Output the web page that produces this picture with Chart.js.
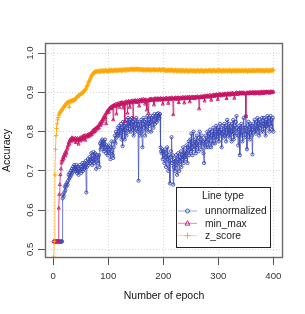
<!DOCTYPE html>
<html>
<head>
<meta charset="utf-8">
<script src="https://cdn.jsdelivr.net/npm/chart.js@4"></script>
<style>
  body { margin: 0; background: #fff; }
  canvas { display: block; }
</style>
</head>
<body>
<canvas id="accChart" width="305" height="314"></canvas>
<script>
// accuracy per epoch (epoch 1..400)
const unnormalized = [
  0.52,0.52,0.52,0.52,0.52,0.52,0.52,0.52,0.52,0.52,0.52,0.52,0.52,0.52,0.52,0.52,0.63,0.64,0.635,0.645,
  0.66,0.65,0.665,0.66,0.67,0.665,0.675,0.69,0.68,0.695,0.685,0.70,0.69,0.705,0.695,0.71,0.70,0.715,0.705,0.71,
  0.70,0.715,0.695,0.71,0.70,0.69,0.705,0.715,0.70,0.71,0.695,0.705,0.72,0.70,0.715,0.705,0.72,0.71,0.725,0.645,
  0.71,0.72,0.73,0.715,0.725,0.735,0.72,0.73,0.745,0.725,0.715,0.73,0.748,0.72,0.735,0.745,0.73,0.705,0.725,0.74,
  0.735,0.72,0.74,0.71,0.77,0.755,0.775,0.765,0.78,0.76,0.775,0.75,0.77,0.78,0.76,0.745,0.765,0.755,0.74,0.76,
  0.765,0.745,0.755,0.73,0.76,0.775,0.75,0.74,0.733,0.76,0.775,0.79,0.77,0.80,0.785,0.795,0.81,0.79,0.80,0.815,
  0.79,0.805,0.82,0.78,0.81,0.763,0.825,0.80,0.815,0.78,0.805,0.82,0.79,0.83,0.81,0.835,0.80,0.825,0.815,0.83,
  0.80,0.82,0.835,0.805,0.825,0.79,0.81,0.83,0.80,0.82,0.835,0.81,0.825,0.80,0.675,0.81,0.825,0.79,0.815,0.83,
  0.80,0.76,0.82,0.835,0.81,0.825,0.79,0.83,0.805,0.815,0.84,0.82,0.80,0.83,0.815,0.84,0.825,0.80,0.835,0.82,
  0.84,0.81,0.83,0.845,0.82,0.835,0.84,0.825,0.845,0.83,0.847,0.84,0.835,0.845,0.76,0.75,0.745,0.755,0.73,0.75,
  0.74,0.72,0.755,0.735,0.71,0.745,0.76,0.73,0.70,0.74,0.725,0.668,0.735,0.75,0.786,0.72,0.74,0.665,0.71,0.73,
  0.70,0.725,0.74,0.715,0.69,0.73,0.745,0.72,0.70,0.735,0.725,0.75,0.71,0.74,0.73,0.76,0.72,0.745,0.735,0.75,
  0.73,0.765,0.745,0.72,0.76,0.775,0.74,0.755,0.78,0.75,0.795,0.76,0.74,0.77,0.80,0.755,0.765,0.78,0.745,0.77,
  0.79,0.76,0.775,0.75,0.785,0.80,0.765,0.78,0.755,0.79,0.77,0.775,0.745,0.72,0.78,0.765,0.79,0.76,0.775,0.80,
  0.78,0.76,0.795,0.77,0.805,0.785,0.76,0.79,0.80,0.77,0.81,0.785,0.795,0.77,0.80,0.815,0.78,0.805,0.79,0.81,
  0.775,0.80,0.82,0.79,0.805,0.76,0.795,0.815,0.785,0.80,0.82,0.79,0.81,0.775,0.805,0.83,0.79,0.81,0.795,0.82,
  0.785,0.81,0.80,0.775,0.82,0.795,0.83,0.78,0.805,0.815,0.79,0.825,0.84,0.81,0.80,0.765,0.79,0.815,0.74,0.81,
  0.79,0.82,0.80,0.775,0.81,0.835,0.785,0.81,0.795,0.84,0.80,0.755,0.815,0.79,0.825,0.805,0.78,0.82,0.80,0.815,
  0.79,0.742,0.805,0.82,0.80,0.83,0.81,0.795,0.825,0.81,0.835,0.80,0.82,0.79,0.83,0.81,0.825,0.80,0.835,0.815,
  0.82,0.80,0.835,0.81,0.825,0.79,0.83,0.815,0.84,0.81,0.825,0.835,0.80,0.82,0.84,0.815,0.83,0.805,0.835,0.80
];
const minMax = [
  0.52,0.52,0.52,0.52,0.52,0.52,0.52,0.52,0.52,0.605,0.64,0.665,0.69,0.705,0.72,0.728,0.725,0.735,0.73,0.74,
  0.745,0.738,0.75,0.745,0.755,0.76,0.765,0.772,0.768,0.778,0.775,0.782,0.778,0.785,0.78,0.783,0.776,0.782,0.779,0.784,
  0.772,0.781,0.777,0.783,0.78,0.768,0.782,0.778,0.785,0.776,0.781,0.786,0.78,0.788,0.783,0.79,0.785,0.778,0.791,0.787,
  0.79,0.786,0.792,0.788,0.794,0.789,0.795,0.791,0.797,0.793,0.799,0.803,0.797,0.805,0.80,0.807,0.802,0.81,0.806,0.812,
  0.808,0.815,0.81,0.818,0.822,0.816,0.825,0.82,0.83,0.826,0.835,0.831,0.84,0.836,0.845,0.82,0.848,0.852,0.848,0.856,
  0.85,0.858,0.86,0.862,0.858,0.864,0.86,0.866,0.83,0.867,0.868,0.864,0.87,0.866,0.845,0.871,0.867,0.872,0.868,0.862,
  0.873,0.869,0.874,0.87,0.875,0.871,0.86,0.874,0.87,0.826,0.876,0.872,0.877,0.873,0.847,0.876,0.878,0.874,0.862,0.877,
  0.873,0.878,0.875,0.879,0.834,0.876,0.879,0.875,0.88,0.877,0.878,0.874,0.88,0.876,0.879,0.865,0.881,0.877,0.88,0.878,
  0.882,0.876,0.879,0.883,0.878,0.881,0.87,0.882,0.879,0.855,0.88,0.878,0.847,0.882,0.879,0.883,0.881,0.884,0.88,0.882,
  0.879,0.883,0.868,0.882,0.885,0.881,0.884,0.88,0.883,0.885,0.882,0.884,0.88,0.883,0.885,0.881,0.884,0.882,0.87,0.885,
  0.882,0.884,0.881,0.885,0.883,0.886,0.882,0.884,0.872,0.885,0.883,0.886,0.882,0.884,0.887,0.883,0.885,0.843,0.884,0.886,
  0.883,0.887,0.884,0.886,0.882,0.885,0.887,0.874,0.886,0.884,0.887,0.883,0.886,0.884,0.888,0.885,0.887,0.873,0.886,0.888,
  0.884,0.887,0.885,0.888,0.886,0.884,0.889,0.876,0.887,0.885,0.888,0.886,0.889,0.885,0.888,0.887,0.884,0.889,0.886,0.888,
  0.887,0.89,0.886,0.888,0.858,0.889,0.887,0.89,0.886,0.889,0.887,0.89,0.888,0.891,0.878,0.889,0.892,0.888,0.891,0.889,
  0.892,0.89,0.888,0.893,0.889,0.892,0.88,0.891,0.893,0.89,0.892,0.894,0.89,0.893,0.891,0.895,0.892,0.894,0.882,0.893,
  0.895,0.892,0.896,0.893,0.895,0.891,0.894,0.896,0.893,0.895,0.894,0.897,0.893,0.896,0.884,0.895,0.898,0.894,0.896,0.893,
  0.897,0.895,0.898,0.894,0.896,0.899,0.895,0.897,0.885,0.896,0.898,0.895,0.90,0.896,0.898,0.895,0.899,0.897,0.90,0.896,
  0.899,0.897,0.90,0.898,0.896,0.90,0.897,0.899,0.896,0.838,0.898,0.90,0.897,0.899,0.896,0.90,0.898,0.901,0.897,0.899,
  0.90,0.897,0.901,0.898,0.90,0.896,0.899,0.901,0.898,0.90,0.897,0.901,0.899,0.90,0.896,0.901,0.898,0.902,0.899,0.901,
  0.897,0.90,0.902,0.899,0.901,0.898,0.902,0.90,0.901,0.899,0.902,0.90,0.898,0.901,0.903,0.899,0.901,0.902,0.90,0.902
];
const zScore = [
  0.48,0.52,0.69,0.755,0.79,0.808,0.82,0.83,0.836,0.842,0.845,0.848,0.85,0.852,0.855,0.856,0.858,0.86,0.862,0.865,
  0.866,0.868,0.87,0.872,0.873,0.875,0.874,0.876,0.862,0.877,0.878,0.877,0.879,0.878,0.88,0.879,0.881,0.88,0.882,0.881,
  0.884,0.886,0.888,0.89,0.891,0.892,0.893,0.892,0.895,0.896,0.897,0.898,0.899,0.90,0.902,0.903,0.905,0.906,0.908,0.911,
  0.915,0.918,0.921,0.925,0.928,0.931,0.934,0.937,0.94,0.943,0.945,0.947,0.949,0.951,0.952,0.953,0.952,0.954,0.953,0.954,
  0.954,0.953,0.955,0.954,0.956,0.953,0.955,0.954,0.956,0.955,0.953,0.956,0.954,0.955,0.957,0.954,0.956,0.955,0.953,0.956,
  0.955,0.957,0.954,0.956,0.955,0.957,0.956,0.954,0.957,0.955,0.956,0.958,0.955,0.957,0.956,0.958,0.955,0.957,0.956,0.958,
  0.956,0.958,0.957,0.955,0.958,0.956,0.959,0.957,0.958,0.956,0.959,0.957,0.958,0.956,0.959,0.958,0.957,0.959,0.958,0.96,
  0.958,0.959,0.957,0.96,0.958,0.959,0.957,0.96,0.958,0.959,0.96,0.958,0.959,0.957,0.96,0.958,0.959,0.957,0.959,0.958,
  0.957,0.959,0.958,0.956,0.959,0.957,0.958,0.956,0.959,0.957,0.958,0.959,0.957,0.958,0.956,0.959,0.957,0.958,0.956,0.958,
  0.957,0.959,0.958,0.956,0.958,0.957,0.959,0.957,0.958,0.956,0.958,0.957,0.959,0.958,0.956,0.958,0.957,0.959,0.957,0.958,
  0.956,0.958,0.957,0.955,0.958,0.956,0.957,0.955,0.958,0.956,0.957,0.955,0.957,0.956,0.958,0.955,0.957,0.956,0.954,0.957,
  0.955,0.957,0.956,0.954,0.957,0.955,0.956,0.954,0.957,0.955,0.956,0.953,0.956,0.955,0.957,0.954,0.956,0.955,0.953,0.956,
  0.955,0.957,0.954,0.956,0.955,0.953,0.956,0.954,0.957,0.955,0.956,0.954,0.955,0.957,0.954,0.956,0.955,0.953,0.956,0.954,
  0.955,0.957,0.954,0.956,0.955,0.953,0.956,0.955,0.957,0.954,0.956,0.955,0.953,0.956,0.954,0.955,0.957,0.954,0.956,0.955,
  0.954,0.956,0.955,0.957,0.954,0.956,0.955,0.953,0.956,0.955,0.957,0.954,0.956,0.955,0.954,0.956,0.955,0.957,0.954,0.956,
  0.955,0.957,0.954,0.956,0.955,0.953,0.956,0.955,0.957,0.954,0.956,0.955,0.954,0.956,0.957,0.955,0.954,0.956,0.955,0.957,
  0.954,0.956,0.955,0.953,0.956,0.955,0.957,0.954,0.956,0.955,0.954,0.957,0.955,0.956,0.954,0.955,0.957,0.954,0.956,0.955,
  0.956,0.954,0.955,0.957,0.955,0.954,0.956,0.955,0.957,0.954,0.956,0.955,0.953,0.956,0.955,0.957,0.954,0.956,0.955,0.956,
  0.954,0.956,0.955,0.957,0.955,0.954,0.956,0.955,0.957,0.955,0.956,0.954,0.957,0.955,0.956,0.955,0.957,0.954,0.956,0.955,
  0.957,0.955,0.956,0.954,0.957,0.955,0.956,0.957,0.955,0.956,0.954,0.957,0.955,0.956,0.957,0.955,0.956,0.958,0.955,0.957
];
const seriesNames = ['unnormalized', 'min_max', 'z_score'];
const xTicks = [0, 100, 200, 300, 400];
const yTicks = [0.5, 0.6, 0.7, 0.8, 0.9, 1.0];

const FONT = '"Liberation Sans", Arial, Helvetica, sans-serif';
const colors = {
  unnormalized: { line: 'rgba(65,80,185,0.75)', legend: 'rgba(65,80,185,0.5)', point: 'rgb(60,75,180)' },
  min_max: { line: 'rgba(200,20,100,0.75)', legend: 'rgba(200,20,100,0.5)', point: 'rgb(200,20,100)' },
  z_score: { line: 'rgba(255,170,0,0.75)', legend: 'rgba(255,170,0,0.5)', point: 'rgb(255,166,0)' }
};
const styles = { unnormalized: 'circle', min_max: 'triangle', z_score: 'cross' };
const radii = { unnormalized: 1.6, min_max: 1.8, z_score: 2.2 };

function toPoints(arr) {
  return arr.map((v, i) => ({ x: i + 1, y: v }));
}

function makeSet(name, arr, order) {
  return {
    label: name,
    data: toPoints(arr),
    borderColor: colors[name].line,
    borderWidth: 1,
    pointStyle: styles[name],
    pointRadius: radii[name],
    pointBorderColor: colors[name].point,
    pointBackgroundColor: 'rgba(0,0,0,0)',
    pointBorderWidth: 0.9,
    tension: 0,
    order: order
  };
}

// frame, rotated y labels and the legend box
const decorations = {
  id: 'decorations',
  afterDraw(chart) {
    const ctx = chart.ctx;
    const a = chart.chartArea;
    const y = chart.scales.y;
    ctx.save();
    ctx.strokeStyle = '#6a6a6a';
    ctx.lineWidth = 1.4;
    ctx.strokeRect(a.left + 0.5, a.top + 0.5, a.right - a.left - 1, a.bottom - a.top - 1);

    ctx.fillStyle = '#333';
    ctx.font = '9.6px ' + FONT;
    ctx.textAlign = 'center';
    ctx.textBaseline = 'middle';
    yTicks.forEach(v => {
      const py = y.getPixelForValue(v);
      ctx.save();
      ctx.translate(30, py);
      ctx.rotate(-Math.PI / 2);
      ctx.fillText(v.toFixed(1), 0, 0);
      ctx.restore();
    });

    // legend
    const lx = 176, ly = 187, lw = 94, lh = 60;
    ctx.fillStyle = '#fff';
    ctx.fillRect(lx, ly, lw, lh);
    ctx.strokeStyle = '#222';
    ctx.lineWidth = 1;
    ctx.strokeRect(lx + 0.5, ly + 0.5, lw, lh);
    ctx.fillStyle = '#222';
    ctx.font = '10.3px ' + FONT;
    ctx.textAlign = 'center';
    ctx.fillText('Line type', 223, 196);
    ctx.textAlign = 'left';
    chart.data.datasets.forEach((ds, i) => {
      const ry = 211 + i * 12.3;
      const c = colors[ds.label];
      ctx.strokeStyle = c.legend;
      ctx.lineWidth = 1;
      ctx.beginPath();
      ctx.moveTo(178, ry);
      ctx.lineTo(197, ry);
      ctx.stroke();
      ctx.strokeStyle = c.point;
      ctx.lineWidth = 0.9;
      ctx.beginPath();
      if (ds.pointStyle === 'circle') {
        ctx.arc(187.5, ry, 2, 0, Math.PI * 2);
      } else if (ds.pointStyle === 'triangle') {
        ctx.moveTo(187.5, ry - 2.6);
        ctx.lineTo(190, ry + 1.8);
        ctx.lineTo(185, ry + 1.8);
        ctx.closePath();
      } else {
        ctx.moveTo(187.5, ry - 3);
        ctx.lineTo(187.5, ry + 3);
        ctx.moveTo(184.5, ry);
        ctx.lineTo(190.5, ry);
      }
      ctx.stroke();
      ctx.fillStyle = '#222';
      ctx.fillText(ds.label, 205, ry + 0.5);
    });
    ctx.restore();
  }
};

const ctx = document.getElementById('accChart').getContext('2d');
new Chart(ctx, {
  type: 'line',
  data: {
    datasets: [
      makeSet(seriesNames[0], unnormalized, 2),
      makeSet(seriesNames[1], minMax, 1),
      makeSet(seriesNames[2], zScore, 0)
    ]
  },
  options: {
    responsive: false,
    animation: false,
    layout: { padding: { left: 0, top: 43, right: 22, bottom: 0 } },
    plugins: { legend: { display: false }, tooltip: { enabled: false } },
    scales: {
      x: {
        type: 'linear',
        min: -15,
        max: 417.5,
        afterBuildTicks: s => { s.ticks = xTicks.map(v => ({ value: v })); },
        afterFit: s => { s.height = 56; },
        ticks: { color: '#333', padding: 6, font: { family: FONT, size: 9.6 } },
        grid: { color: '#d8d8d8', lineWidth: 1, tickLength: 7, tickColor: '#555', tickWidth: 1 },
        border: { display: false, dash: [1, 2] },
        title: { display: true, text: 'Number of epoch', color: '#111', padding: { top: 0, bottom: 12 }, font: { family: FONT, size: 10.5 } }
      },
      y: {
        min: 0.478,
        max: 1.026,
        afterBuildTicks: s => { s.ticks = yTicks.map(v => ({ value: v })); },
        afterFit: s => { s.width = 45; },
        ticks: { display: false },
        grid: { color: '#d8d8d8', lineWidth: 1, tickLength: 7, tickColor: '#555', tickWidth: 1 },
        border: { display: false, dash: [1, 2] },
        title: { display: true, text: 'Accuracy', color: '#111', padding: { top: 1, bottom: 0 }, font: { family: FONT, size: 10.5 } }
      }
    }
  },
  plugins: [decorations]
});
</script>
</body>
</html>
